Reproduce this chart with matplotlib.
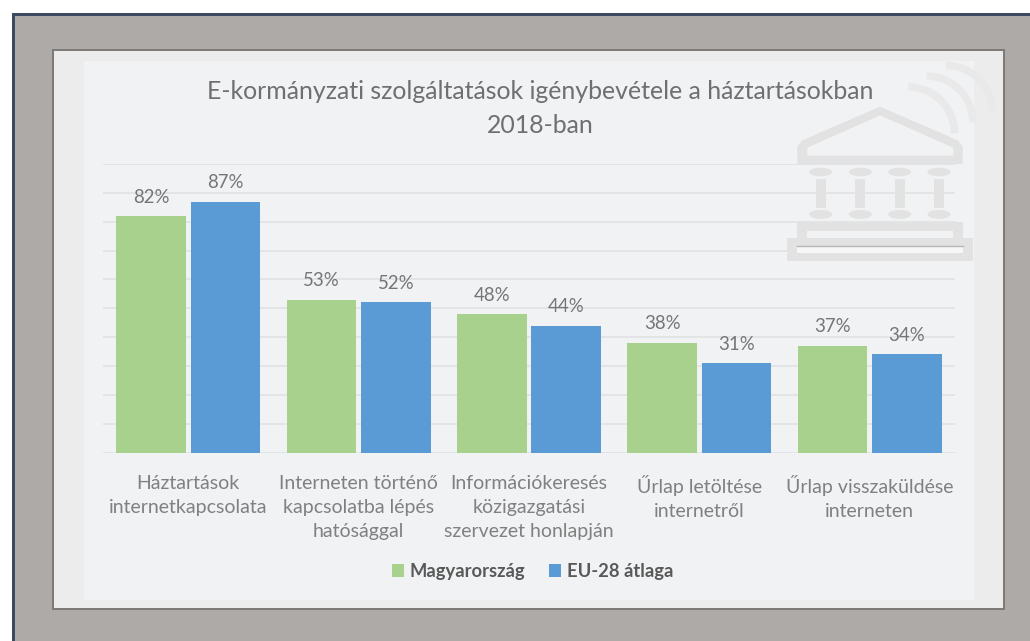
import matplotlib
matplotlib.use("Agg")
import matplotlib.pyplot as plt
from matplotlib.patches import Rectangle, Wedge, Ellipse, PathPatch
from matplotlib.path import Path
import numpy as np

plt.rcParams['font.family'] = ['Lato', 'DejaVu Sans']

title = "E-kormányzati szolgáltatások igénybevétele a háztartásokban\n2018-ban"
categories = ["Háztartások\ninternetkapcsolata",
              "Interneten történő\nkapcsolatba lépés\nhatósággal",
              "Információkeresés\nközigazgatási\nszervezet honlapján",
              "Űrlap letöltése\ninternetről",
              "Űrlap visszaküldése\ninterneten"]
hungary = [82, 53, 48, 38, 37]
eu28 = [87, 52, 44, 31, 34]
series_names = ["Magyarország", "EU-28 átlaga"]

W, H = 1030, 641
fig = plt.figure(figsize=(W/100, H/100), dpi=100, facecolor='white')

# background layer in pixel coordinates
bg = fig.add_axes([0, 0, 1, 1], zorder=0)
bg.set_xlim(0, W); bg.set_ylim(H, 0); bg.axis('off')
bg.add_patch(Rectangle((12, 13), W, H, fc='#3b4a60', ec='none'))
bg.add_patch(Rectangle((15, 16), W, H, fc='#aeaaa8', ec='none'))
bg.add_patch(Rectangle((52, 49), 953, 561, fc='#7d7a78', ec='none'))
bg.add_patch(Rectangle((54, 51), 949, 557, fc='#ececec', ec='none'))
bg.add_patch(Rectangle((84, 61), 890, 539, fc='#f1f2f4', ec='none'))

# chart
L, R, T, B = 103, 955, 164, 452.5
ax = fig.add_axes([L/W, 1-B/H, (R-L)/W, (B-T)/H], zorder=1)
ax.patch.set_alpha(0)
x = np.arange(len(categories))
bw = 69.5/170.4
off = 37.2/170.4
b1 = ax.bar(x-off, hungary, bw, color='#a9d18e', edgecolor='none', zorder=3)
b2 = ax.bar(x+off, eu28, bw, color='#5b9bd5', edgecolor='none', zorder=3)
ax.set_xlim(-0.5, len(categories)-0.5)
ax.set_ylim(0, 100)
ax.set_yticks(np.arange(0, 101, 10))
ax.tick_params(axis='y', left=False, labelleft=False)
ax.tick_params(axis='x', bottom=False, pad=12.5, labelsize=14, labelcolor='#808080')
ax.set_xticks(x)
ax.set_xticklabels(categories)
for lab in ax.get_xticklabels():
    lab.set_linespacing(1.5)
ax.grid(axis='y', color='#dfe0e2', lw=1.1, zorder=1)
for s in ax.spines.values():
    s.set_visible(False)
for bars in (b1, b2):
    ax.bar_label(bars, labels=[f"{int(b.get_height())}%" for b in bars],
                 padding=7.5, fontsize=13.4, color='#757575')

# title
fig.text(540/W, 1-108.5/H, title, ha='center', va='center', fontsize=17.9,
         color='#6f6f6f', linespacing=1.6, zorder=5)

# icon overlay, coordinates in reference pixels
ic = fig.add_axes([0, 0, 1, 1], zorder=2)
ic.patch.set_alpha(0)
ic.set_xlim(0, W); ic.set_ylim(H, 0); ic.axis('off')
px = lambda a, b: (760+a/3, 40+b/3)
col = '#e2e2e2'
for a, b in [(445, 280), (500, 247), (558, 215)]:
    c = px(a, b)
    ic.add_patch(Wedge(c, 50, 270, 360, width=7.5, fc='#e9e9ea', ec='none'))
outer = [px(*p) for p in [(112, 320), (125, 302), (360, 200), (595, 302), (608, 320), (608, 372), (112, 372)]]
inner = [px(*p) for p in [(142, 347), (580, 347), (580, 323), (360, 226), (142, 323)]]
verts = outer + [outer[0]] + inner + [inner[0]]
codes = [Path.MOVETO] + [Path.LINETO]*(len(outer)-1) + [Path.CLOSEPOLY] + \
        [Path.MOVETO] + [Path.LINETO]*(len(inner)-1) + [Path.CLOSEPOLY]
ic.add_patch(PathPatch(Path(verts, codes), fc=col, ec='none'))
for a in (182, 301, 419, 537):
    ic.add_patch(Ellipse(px(a, 396), 23, 8.5, fc=col, ec='none'))
    ic.add_patch(Ellipse(px(a, 523), 23, 9, fc=col, ec='none'))
    cx, cy = px(a-15, 416)
    ic.add_patch(Rectangle((cx, cy), 10, 29, fc=col, ec='none'))
# base
x0, y0 = px(112, 547); x1, y1 = px(608, 595)
ic.add_patch(PathPatch(Path([(x0, y1), (x0, y0), (x1, y0), (x1, y1), px(580, 595), px(580, 572), px(142, 572), px(142, 595), (x0, y1)]), fc=col, ec='none'))
x0, y0 = px(80, 595); x1, y1 = px(638, 662)
x2, y2 = px(112, 617); x3, y3 = px(610, 640)
ic.add_patch(PathPatch(Path([(x0, y0), (x1, y0), (x1, y1), (x0, y1), (x0, y0),
                             (x2, y2), (x2, y3), (x3, y3), (x3, y2), (x2, y2)],
                            [Path.MOVETO]+[Path.LINETO]*3+[Path.CLOSEPOLY]+[Path.MOVETO]+[Path.LINETO]*3+[Path.CLOSEPOLY]),
                       fc=col, ec='none'))
ic.add_patch(Rectangle(px(112, 617), (610-112)/3, 23/3, fc='#f6f6f6', ec='none'))
ic.plot([px(112, 617)[0], px(610, 617)[0]], [px(0, 617)[1]]*2, color='#b5b5b5', lw=1)

# legend
h = [Rectangle((0, 0), 1, 1, fc=b1[0].get_facecolor()), Rectangle((0, 0), 1, 1, fc=b2[0].get_facecolor())]
fig.legend(h, series_names, loc='center', bbox_to_anchor=(532.5/W, 1-571.5/H), ncol=2, frameon=False,
           prop={'size': 13.2, 'weight': 'bold'}, labelcolor='#595959', handlelength=0.65, handleheight=0.65,
           handletextpad=0.32, columnspacing=1.3, borderpad=0)

fig.savefig("out.png", dpi=100, facecolor='white')
